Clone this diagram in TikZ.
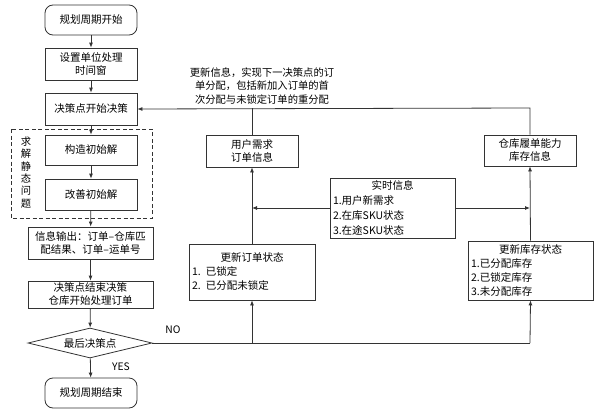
\documentclass[tikz,border=0pt]{standalone}
\usepackage{fontspec}
\setmainfont{Noto Sans CJK SC}
\usetikzlibrary{arrows.meta,shapes.geometric}
\tikzset{
  box/.style={draw=black!80, line width=0.8pt, align=center, inner sep=1pt, font=\fontsize{10.5pt}{13pt}\selectfont},
  term/.style={box, rounded corners=8pt},
  conn/.style={draw=black!80, line width=0.8pt},
  arr/.style={conn, -{Latex[length=5pt,width=4pt]}},
  lbl/.style={font=\fontsize{10.3pt}{13.5pt}\selectfont, inner sep=0pt},
}
\begin{document}
\begin{tikzpicture}[x=1pt,y=-1pt]
\useasboundingbox (0,0) rectangle (600,415);
% left column
\node[term, minimum width=92pt, minimum height=30pt] (start) at (91,20) {规划周期开始};
\node[box, minimum width=92pt, minimum height=32pt] (setwin) at (91,64) {设置单位处理\\时间窗};
\node[box, minimum width=92pt, minimum height=32pt] (dec) at (91,109) {决策点开始决策};
\node[box, minimum width=92pt, minimum height=30pt] (cons) at (91,150) {构造初始解};
\node[box, minimum width=92pt, minimum height=31pt] (impr) at (91,194.5) {改善初始解};
\draw[conn, dashed, dash pattern=on 4pt off 2.5pt] (11,129) rectangle (152,218);
\node[lbl, align=center, font=\fontsize{10.3pt}{12.3pt}\selectfont] (solve) at (26,172.5) {求\\解\\静\\态\\问\\题};
\node[box, minimum width=125pt, minimum height=32pt] (out) at (90.5,243) {信息输出：订单–仓库匹\\配结果、订单–运单号};
\node[box, minimum width=125pt, minimum height=27pt] (endd) at (90.5,294.5) {决策点结束决策\\仓库开始处理订单};
\node[box, shape=diamond, aspect=4, inner sep=0pt, minimum width=124pt, minimum height=30pt] (last) at (90,343) {最后决策点};
\node[term, minimum width=92pt, minimum height=30pt] (finish) at (91,393) {规划周期结束};
\node[lbl] (yes) at (121,367) {YES};
\node[lbl] (no) at (173,330) {NO};
% middle and right
\node[box, minimum width=92pt, minimum height=32pt] (user) at (252,151) {用户需求\\订单信息};
\node[box, minimum width=92pt, minimum height=31pt] (wh) at (530,150.5) {仓库履单能力\\库存信息};
\node[box, minimum width=126pt, minimum height=56pt, text width=120pt, align=left, font=\fontsize{10.5pt}{14pt}\selectfont] (ordst) at (252,272) {\makebox[\linewidth][c]{更新订单状态}\\1. 已锁定\\2. 已分配未锁定};
\node[box, minimum width=125pt, minimum height=60pt, text width=119pt, align=left, font=\fontsize{10.5pt}{15pt}\selectfont] (rt) at (392.5,208) {\makebox[\linewidth][c]{实时信息}\\1.用户新需求\\2.在库SKU状态\\3.在途SKU状态};
\node[box, minimum width=125pt, minimum height=59pt, text width=119pt, align=left, font=\fontsize{10.5pt}{14pt}\selectfont] (inv) at (530.5,270.5) {\makebox[\linewidth][c]{更新库存状态}\\1.已分配库存\\2.已锁定库存\\3.未分配库存};
\node[lbl, align=center] (note) at (262,86) {更新信息，实现下一决策点的订\\单分配，包括新加入订单的首\\次分配与未锁定订单的重分配};
% coordinates
\coordinate (topU) at (252,108);
\coordinate (topW) at (530,108);
\coordinate (noU) at (252,343);
\coordinate (noW) at (530,343);
\coordinate (rtU) at (252,208);
\coordinate (rtW) at (530,208);
% connectors
\draw[arr] (start) -- (setwin);
\draw[arr] (setwin) -- (dec);
\draw[arr] (dec) -- (cons);
\draw[arr] (cons) -- (impr);
\draw[arr] (impr) -- (out);
\draw[arr] (out) -- (endd);
\draw[arr] (endd) -- (last);
\draw[arr] (last) -- (finish);
\draw[conn] (last.east) -- (noW);
\draw[arr] (noU) -- (ordst.south);
\draw[arr] (noW) -- (inv.south);
\draw[arr] (ordst.north) -- (user.south);
\draw[arr] (inv.north) -- (wh.south);
\draw[arr] (rt.west) -- (rtU);
\draw[arr] (rt.east) -- (rtW);
\draw[conn] (user.north) -- (topU);
\draw[arr] (wh.north) -- (topW) -- (dec.east);
\end{tikzpicture}
\end{document}
